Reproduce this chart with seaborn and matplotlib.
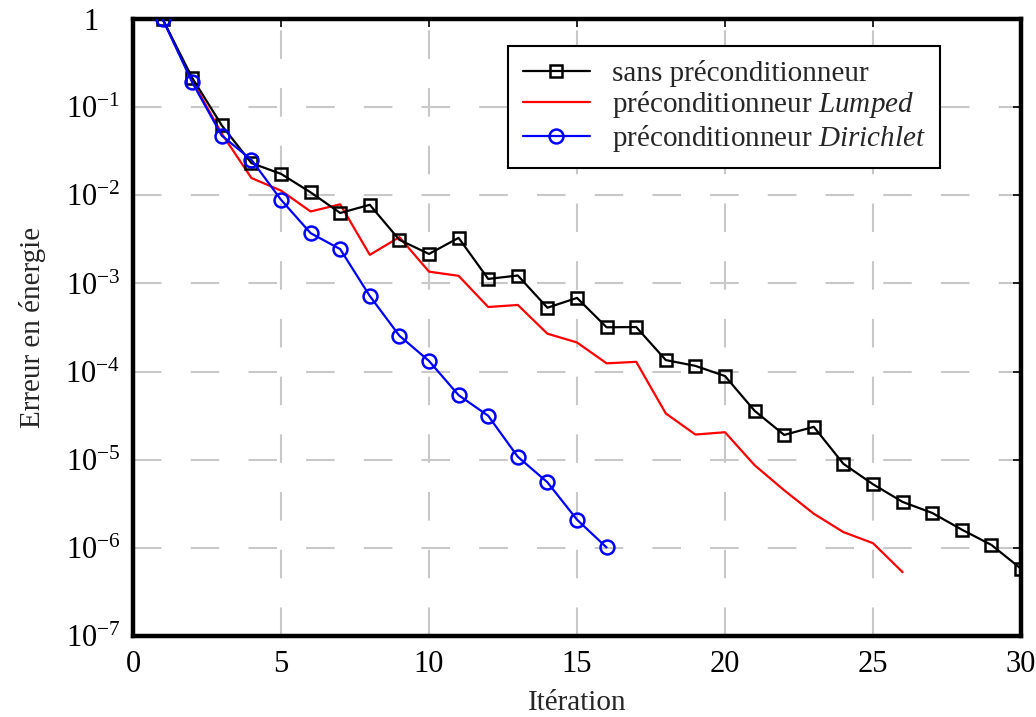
import numpy as np
import pandas as pd
import matplotlib
matplotlib.use("Agg")
import matplotlib.pyplot as plt
import matplotlib.transforms as mtransforms
import seaborn as sns
from matplotlib.ticker import NullLocator

iters_sans = list(range(1, 31))
err_sans = [1.0, 0.215, 0.062, 0.0232, 0.0175, 0.0108, 0.0063, 0.0078, 0.00312, 0.00216,
            0.00329, 0.001125, 0.00123, 0.00053, 0.000685, 0.000318, 0.00032, 0.000135,
            0.000116, 8.9e-5, 3.59e-5, 1.91e-5, 2.36e-5, 8.98e-6, 5.27e-6, 3.32e-6,
            2.49e-6, 1.61e-6, 1.08e-6, 5.8e-7]

iters_lumped = list(range(1, 27))
err_lumped = [1.0, 0.2, 0.05, 0.0157, 0.0113, 0.00655, 0.0079, 0.00211, 0.00335, 0.00136,
              0.00122, 0.00054, 0.00057, 0.000269, 0.000214, 0.000124, 0.000129, 3.35e-5,
              1.93e-5, 2.05e-5, 8.67e-6, 4.5e-6, 2.44e-6, 1.51e-6, 1.13e-6, 5.3e-7]

iters_dir = list(range(1, 17))
err_dir = [1.0, 0.191, 0.0475, 0.0253, 0.0089, 0.00372, 0.00245, 0.00072, 0.000255,
           0.000132, 5.4e-5, 3.15e-5, 1.08e-5, 5.55e-6, 2.09e-6, 1.01e-6]

labels = ["sans préconditionneur", "préconditionneur $\\mathit{Lumped}$",
          "préconditionneur $\\mathit{Dirichlet}$"]

xticks = [0, 5, 10, 15, 20, 25, 30]
yticks = [1e-7, 1e-6, 1e-5, 1e-4, 1e-3, 1e-2, 1e-1, 1]
yticklabels = ["$10^{-7}$", "$10^{-6}$", "$10^{-5}$", "$10^{-4}$", "$10^{-3}$",
               "$10^{-2}$", "$10^{-1}$", "1"]

sns.set_theme(style="white")
plt.rcParams["font.family"] = ["Liberation Serif", "DejaVu Serif"]
plt.rcParams["mathtext.fontset"] = "custom"
plt.rcParams["mathtext.rm"] = "Liberation Serif"
plt.rcParams["mathtext.it"] = "Liberation Serif:italic"
plt.rcParams["mathtext.bf"] = "Liberation Serif:bold"

fig = plt.figure(figsize=(10.36, 7.17), dpi=100)
ax = fig.add_axes([133 / 1036, 1 - 636 / 717, (1021 - 133) / 1036, (636 - 19) / 717])

df_s = pd.DataFrame({"it": iters_sans, "err": err_sans})
df_l = pd.DataFrame({"it": iters_lumped, "err": err_lumped})
df_d = pd.DataFrame({"it": iters_dir, "err": err_dir})

sns.lineplot(data=df_s, x="it", y="err", ax=ax, color="black", lw=1.6, marker="s",
             markersize=8, markerfacecolor="none", markeredgecolor="black",
             markeredgewidth=1.8, label=labels[0], zorder=3)
sns.lineplot(data=df_l, x="it", y="err", ax=ax, color="#ff0000", lw=1.6,
             label=labels[1], zorder=2)
sns.lineplot(data=df_d, x="it", y="err", ax=ax, color="#0000ff", lw=1.6, marker="o",
             markersize=10, markerfacecolor="none", markeredgecolor="#0000ff",
             markeredgewidth=1.8, label=labels[2], zorder=4)

ax.set_yscale("log")
ax.set_xlim(0, 30)
ax.set_ylim(1e-7, 1)
ax.set_xticks(xticks)
ax.set_xticklabels([str(v) for v in xticks])
ax.set_yticks(yticks)
ax.set_yticklabels(yticklabels)
ax.yaxis.set_minor_locator(NullLocator())

ax.grid(True, which="major", color="#c8c8c8", lw=1.5, linestyle=(0, (13.7, 14)))
ax.set_axisbelow(True)

for sp in ax.spines.values():
    sp.set_visible(True)
    sp.set_color("black")
    sp.set_linewidth(3.2)

ax.tick_params(axis="both", which="major", direction="in", length=6, width=1.2,
               top=True, right=True, labelsize=22, colors="black")
ax.tick_params(axis="y", pad=9)
ax.tick_params(axis="x", pad=10)

ax.set_xlabel("Itération", fontsize=21, labelpad=8)
ax.set_ylabel("Erreur en énergie", fontsize=21, labelpad=14)

leg = ax.legend(loc="upper right", bbox_to_anchor=(0.909, 0.957), fontsize=21,
                frameon=True, fancybox=False, edgecolor="black", framealpha=1,
                handlelength=2.3, borderpad=0.5, labelspacing=0.08, handletextpad=0.75,
                borderaxespad=0)
leg.get_frame().set_linewidth(1.5)

# shift the "1" label left so it aligns with the "10" of the other labels
one_label = ax.yaxis.get_major_ticks()[-1].label1
one_label.set_transform(one_label.get_transform() +
                        mtransforms.ScaledTranslation(-22 / 100, 0, fig.dpi_scale_trans))

fig.savefig("out.png", dpi=100)
